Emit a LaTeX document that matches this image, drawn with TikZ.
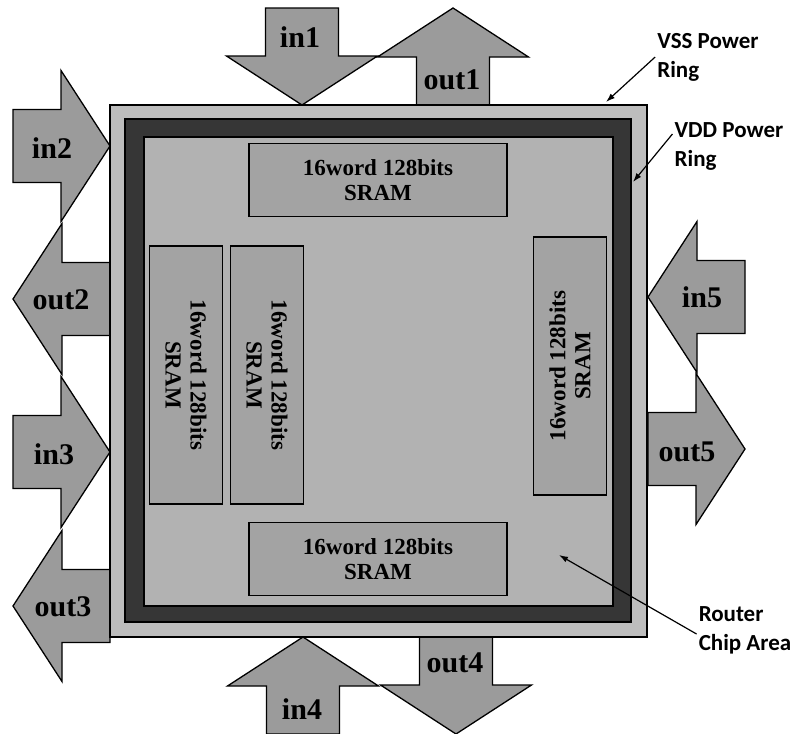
\documentclass[tikz,border=0pt]{standalone}
\usepackage{fontspec}
\setmainfont{Liberation Serif}
\newfontfamily\calloutfont{Carlito}
\usetikzlibrary{arrows.meta}

\definecolor{vssgray}{HTML}{BDBDBD}
\definecolor{vddgray}{HTML}{363636}
\definecolor{chipgray}{HTML}{B2B2B2}
\definecolor{sramgray}{HTML}{A3A3A3}
\definecolor{arrowgray}{HTML}{9B9B9B}

\tikzset{
  arrowbody/.style={draw=black, line width=1.3pt, fill=arrowgray},
  pics/blockarrow/.style={code={
    \draw[arrowbody] (0,-36.5) -- (48,-36.5) -- (48,-75.5) -- (97,0) -- (48,75.5) -- (48,36.5) -- (0,36.5) -- cycle;
  }},
  portlabel/.style={font=\fontsize{30}{30}\selectfont\bfseries, inner sep=0pt},
  sram/.style={draw, line width=1.5pt, fill=sramgray, minimum width=258pt, minimum height=73pt,
    align=center, inner sep=0pt, font=\fontsize{23}{25}\selectfont\bfseries},
  callout/.style={font=\calloutfont\fontsize{23}{29}\selectfont\bfseries, align=left, inner sep=2pt},
  calloutarrow/.style={-{Latex[length=9pt,width=6pt]}, line width=1.2pt},
}

\begin{document}
\begin{tikzpicture}[x=1pt, y=-1pt]
    \useasboundingbox (0,0) rectangle (796,734);

    % Port arrows
    \pic[rotate=-90] at (302,8)   {blockarrow};  % in1
    \pic[rotate=90]  at (453,105) {blockarrow};  % out1
    \pic             at (13,146)  {blockarrow};  % in2
    \pic[rotate=180] at (110,299) {blockarrow};  % out2
    \pic             at (13,452)  {blockarrow};  % in3
    \pic[rotate=180] at (110,606) {blockarrow};  % out3
    \pic[rotate=90]  at (303,734) {blockarrow};  % in4
    \pic[rotate=-90] at (456,637) {blockarrow};  % out4
    \pic[rotate=180] at (745,297) {blockarrow};  % in5
    \pic             at (648,449) {blockarrow};  % out5

    % Power rings and chip area
    \draw[line width=1.5pt, fill=vssgray] (110,105) rectangle (647,637);
    \draw[line width=1.5pt, fill=vddgray] (125,119) rectangle (631,622);
    \draw[line width=1.5pt, fill=chipgray] (144,137) rectangle (613,606);

    % SRAM blocks
    \node[sram] (sramtop) at (378,180) {16word 128bits\\SRAM};
    \node[sram] (srambottom) at (378,559) {16word 128bits\\SRAM};
    \node[sram, rotate=-90] (sramleftA) at (186,375) {16word 128bits\\SRAM};
    \node[sram, rotate=-90] (sramleftB) at (267,375) {16word 128bits\\SRAM};
    \node[sram, rotate=90] (sramright) at (570,366) {16word 128bits\\SRAM};

    % Port labels
    \node[portlabel] (in1) at (300,37) {in1};
    \node[portlabel] (out1) at (452,80) {out1};
    \node[portlabel] (in2) at (52,148) {in2};
    \node[portlabel] (out2) at (61,300) {out2};
    \node[portlabel] (in3) at (54,454) {in3};
    \node[portlabel] (out3) at (63,607) {out3};
    \node[portlabel] (in4) at (302,709) {in4};
    \node[portlabel] (out4) at (455,663) {out4};
    \node[portlabel] (in5) at (702,297) {in5};
    \node[portlabel] (out5) at (687,452) {out5};

    % Callouts
    \coordinate (vsstip) at (606,102);
    \coordinate (vddtip) at (633,182);
    \coordinate (routertip) at (559,555);
    \node[callout] (vss) at (708,57) {VSS Power\\Ring};
    \node[callout] (vdd) at (729,146) {VDD Power\\Ring};
    \node[callout] (router) at (745,630) {Router\\Chip Area};
    \draw[calloutarrow] (vss.west) -- (vsstip);
    \draw[calloutarrow] ([yshift=12pt]vdd.west) -- (vddtip);
    \draw[calloutarrow] ([yshift=-4pt]router.west) -- (routertip);
\end{tikzpicture}
\end{document}
